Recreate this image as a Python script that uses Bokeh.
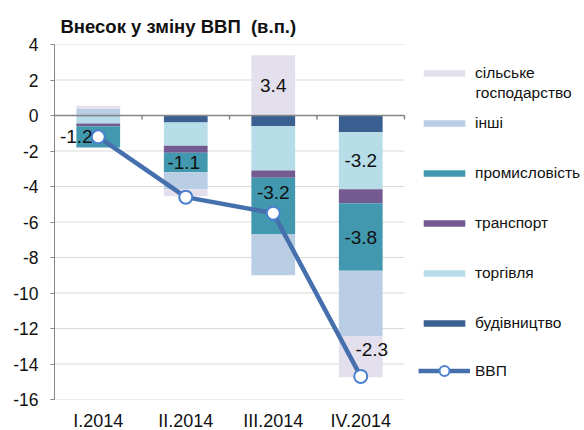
from bokeh.plotting import figure
from bokeh.models import (Range1d, FixedTicker, ColumnDataSource, LabelSet, Label,
                          Legend, LegendItem)
from bokeh.core.properties import value
from bokeh.embed import file_html
from bokeh.resources import INLINE

quarters = ["I.2014", "II.2014", "III.2014", "IV.2014"]

# series in stacking order (closest to zero first)
budivnytstvo = [-0.05, -0.4, -0.6, -0.95]
torhivlia = [-0.4, -1.3, -2.5, -3.2]
transport = [-0.15, -0.4, -0.4, -0.8]
promyslovist = [-1.2, -1.1, -3.2, -3.8]
inshi = [0.4, -0.95, -2.3, -3.7]
silske = [0.15, -0.4, 3.4, -2.3]
vvp = [-1.2, -4.6, -5.5, -14.7]

series_names = ["будівництво", "торгівля", "транспорт", "промисловість", "інші", "сільське"]
series_values = [budivnytstvo, torhivlia, transport, promyslovist, inshi, silske]
series_colors = ["#3a5f91", "#b7dee8", "#735a91", "#4298ae", "#b9cde5", "#e4dfec"]

y_ticks = [-16, -14, -12, -10, -8, -6, -4, -2, 0, 2, 4]

# which segments carry a value label: (series index, quarter index, x_offset, y_offset)
labelled = [(3, 0, -22, 0), (3, 1, -2, 0), (5, 2, 0, 0), (3, 2, 0, 14),
            (1, 3, 0, 0), (3, 3, 0, 0), (5, 3, 11, 7)]

FONT = "Liberation Sans"
n = len(quarters)
FRAME_W, FRAME_H = 530, 355
PLOT_W = 350                     # pixels used by the categories themselves
x_end = n * FRAME_W / PLOT_W
xc = [i + 0.5 for i in range(n)]

p = figure(x_range=Range1d(0, x_end), y_range=Range1d(-16, 4),
           frame_width=FRAME_W, frame_height=FRAME_H,
           output_backend="svg", toolbar_location=None,
           min_border_left=54, min_border_right=0, min_border_top=44, min_border_bottom=30)
p.outline_line_color = None
p.background_fill_color = "white"

p.title.text = "Внесок у зміну ВВП \u00a0(в.п.)"
p.title.text_font = FONT
p.title.text_font_style = "bold"
p.title.text_font_size = "18.5px"
p.title.text_color = "#111111"
p.title.align = "left"
p.title.offset = 6
p.title.standoff = 16

# grid lines limited to the category area
p.segment(x0=[0] * len(y_ticks), x1=[n] * len(y_ticks), y0=y_ticks, y1=y_ticks,
          line_color="#d9d9d9", line_width=1)

# stacked bars
pos_acc = [0.0] * n
neg_acc = [0.0] * n
bar_renderers = []
seg_bounds = []
for vals, col in zip(series_values, series_colors):
    tops, bottoms = [], []
    for i, v in enumerate(vals):
        if v >= 0:
            bottoms.append(pos_acc[i]); tops.append(pos_acc[i] + v); pos_acc[i] += v
        else:
            tops.append(neg_acc[i]); bottoms.append(neg_acc[i] + v); neg_acc[i] += v
    seg_bounds.append((tops, bottoms))
    src = ColumnDataSource(dict(x=xc, top=tops, bottom=bottoms))
    r = p.vbar(x="x", top="top", bottom="bottom", width=0.5, source=src,
               fill_color=col, line_color=None)
    bar_renderers.append(r)

# zero line and its small ticks at category boundaries
p.segment(x0=[0], x1=[n], y0=[0], y1=[0], line_color="#868686", line_width=1.5)
bounds = list(range(1, n + 1))
p.segment(x0=bounds, x1=bounds, y0=[0] * n, y1=[-0.22] * n,
          line_color="#868686", line_width=1.5)

# GDP line
line_r = p.line(xc, vvp, line_color="#4670ad", line_width=4.5)
dot_r = p.scatter(xc, vvp, size=13, marker="circle", fill_color="white",
                  line_color="#4a80cf", line_width=2)

# value labels
lx, ly, lt, lxo, lyo = [], [], [], [], []
for si, qi, xo, yo in labelled:
    tops, bottoms = seg_bounds[si]
    lx.append(xc[qi]); ly.append((tops[qi] + bottoms[qi]) / 2)
    lt.append("%.1f" % series_values[si][qi]); lxo.append(xo); lyo.append(yo)
lsrc = ColumnDataSource(dict(x=lx, y=ly, t=lt, xo=lxo, yo=lyo))
p.add_layout(LabelSet(x="x", y="y", text="t", source=lsrc, x_offset="xo", y_offset="yo",
                      text_align="center", text_baseline="middle",
                      text_font=value(FONT), text_font_size="19px", text_color="#111111"))

# axes
p.yaxis.ticker = FixedTicker(ticks=y_ticks)
p.yaxis.major_label_overrides = {t: str(t) for t in y_ticks}
p.yaxis.axis_line_color = "#868686"
p.yaxis.major_tick_line_color = "#868686"
p.yaxis.major_tick_in = 0
p.yaxis.major_tick_out = 4
p.yaxis.minor_tick_line_color = None
p.yaxis.major_label_standoff = 12
p.yaxis.major_label_text_font = FONT
p.yaxis.major_label_text_font_size = "17.5px"
p.yaxis.major_label_text_color = "#111111"

p.xaxis.ticker = FixedTicker(ticks=xc)
p.xaxis.major_label_overrides = {x: q for x, q in zip(xc, quarters)}
p.xaxis.axis_line_color = None
p.xaxis.major_tick_line_color = None
p.xaxis.minor_tick_line_color = None
p.xaxis.major_label_standoff = 5
p.xaxis.major_label_text_font = FONT
p.xaxis.major_label_text_font_size = "18px"
p.xaxis.major_label_text_color = "#111111"

p.xgrid.grid_line_color = None
p.ygrid.grid_line_color = None

# legends inside the wide frame, to the right of the categories
legend_style = dict(orientation="vertical", glyph_width=52, label_standoff=5, padding=0,
                    margin=0, border_line_color=None, background_fill_alpha=0,
                    label_text_font=FONT, label_text_font_size="15.5px",
                    label_text_color="#111111")
order = [5, 4, 3, 2, 1, 0]
items = [LegendItem(label=series_names[k], renderers=[bar_renderers[k]]) for k in order]
p.add_layout(Legend(items=items, location=(364, 66), glyph_height=8, label_height=20,
                    spacing=30, **legend_style))
p.add_layout(Legend(items=[LegendItem(label="ВВП", renderers=[line_r, dot_r])],
                    location=(364, 16), glyph_height=25, label_height=25, **legend_style))
p.add_layout(Label(x=421, y=307, x_units="screen", y_units="screen", text="господарство",
                   text_font=FONT, text_font_size="15.5px", text_baseline="middle",
                   text_color="#111111"))

open("out.html", "w").write(file_html(p, INLINE))
